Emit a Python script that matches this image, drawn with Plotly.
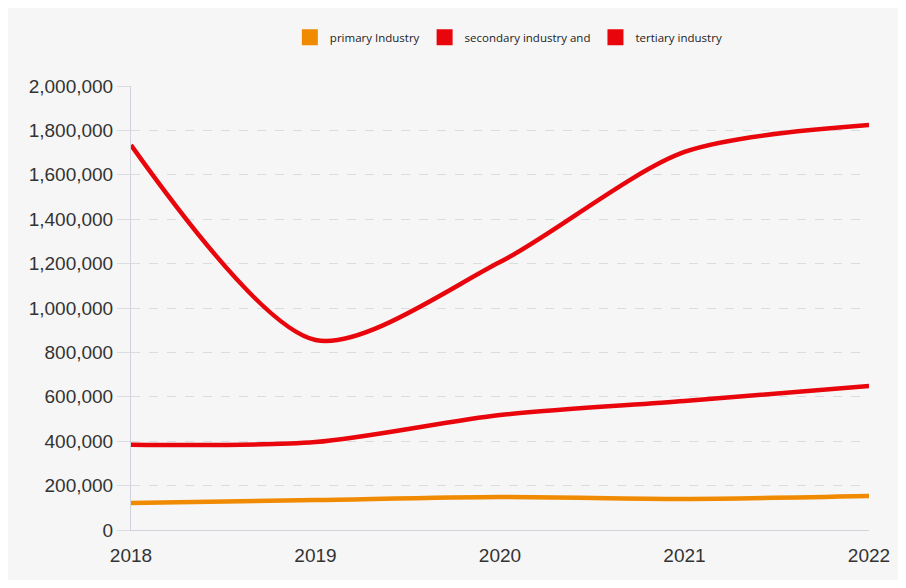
import plotly.graph_objects as go

years = [2018, 2019, 2020, 2021, 2022]
primary = [122000, 135000, 149000, 140000, 153000]
secondary = [384000, 396000, 518000, 581000, 649000]
tertiary = [1734000, 856000, 1207000, 1703000, 1824000]
names = ["primary Industry", "secondary industry and", "tertiary industry"]
colors = ["#f08a00", "#e8060c", "#e8060c"]
series = [primary, secondary, tertiary]

fig = go.Figure()
for name, vals, col in zip(names, series, colors):
    fig.add_trace(go.Scatter(x=years, y=vals, mode="lines", name=name,
                             line=dict(color=col, width=4.5, shape="spline", smoothing=0.8),
                             showlegend=False))
for name, col in zip(names, colors):
    fig.add_trace(go.Scatter(x=[None], y=[None], mode="markers", name=name,
                             marker=dict(symbol="square", size=17, color=col)))

fig.update_layout(
    width=890, height=572,
    margin=dict(l=123, r=29, t=78, b=50),
    paper_bgcolor="#f6f6f6", plot_bgcolor="#f6f6f6",
    font=dict(family="Liberation Sans, Arial, sans-serif", color="#333333"),
    legend=dict(orientation="h", x=0.512, xanchor="center", y=1.11, yanchor="middle",
                font=dict(size=11.5, family="Open Sans, sans-serif", color="#222"),
                itemwidth=30, tracegroupgap=0, bgcolor="rgba(0,0,0,0)"),
    xaxis=dict(range=[2018, 2022], tickvals=years, ticktext=[str(y) for y in years],
               showgrid=False, zeroline=False, showline=True, linecolor="#d0d3da",
               tickfont=dict(size=19, color="#333"), ticks="outside", ticklen=8,
               tickcolor="rgba(0,0,0,0)", automargin=False),
    yaxis=dict(range=[0, 2000000], dtick=200000, tickformat=",d",
               showgrid=True, gridcolor="#d9dce2", griddash="dash", gridwidth=1,
               zeroline=False, showline=True, linecolor="#d0d3da",
               ticks="outside", ticklen=13, tickcolor="#d9dce2",
               tickfont=dict(size=19, color="#333"), automargin=False),
)
fig.write_html("out.html")
